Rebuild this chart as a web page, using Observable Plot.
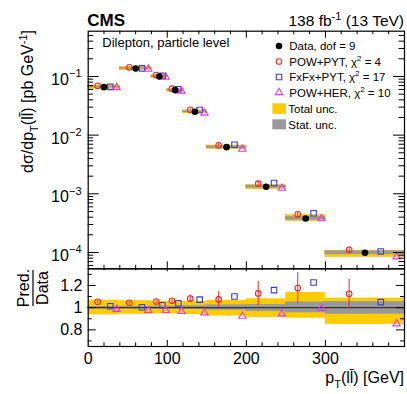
<!DOCTYPE html>
<html><head><meta charset="utf-8">
<script src="https://cdn.jsdelivr.net/npm/d3@7"></script>
<script src="https://cdn.jsdelivr.net/npm/@observablehq/plot@0.6"></script>
<style>
body{margin:0;background:#fff;}
#wrap{position:relative;width:407px;height:394px;overflow:hidden;}
#wrap svg{position:absolute;left:0;top:0;}
</style></head><body><div id="wrap"></div>
<script>
// ---- data ----
const binLo = [0, 40, 80, 100, 120, 150, 200, 250, 300];
const binHi = [40, 80, 100, 120, 150, 200, 250, 300, 400];
const dataVal = [0.0658, 0.137, 0.100, 0.0584, 0.0250, 0.00624, 0.00132, 0.00038, 0.000099];
const ratioPowPyt = [1.053, 1.044, 1.055, 1.062, 1.082, 1.074, 1.128, 1.176, 1.125];
const errPowPyt   = [0.012, 0.012, 0.014, 0.015, 0.032, 0.070, 0.108, 0.140, 0.130];
const ratioFxFxPyt = [1.012, 1.003, 1.022, 1.040, 1.072, 1.100, 1.158, 1.227, 1.050];
const ratioPowHer  = [0.985, 0.975, 0.975, 0.966, 0.954, 0.923, 0.945, 0.993, 0.855];
const totUp  = [0.067, 0.062, 0.057, 0.057, 0.058, 0.066, 0.080, 0.137, 0.086];
const totDn  = [0.065, 0.060, 0.057, 0.057, 0.062, 0.076, 0.088, 0.095, 0.151];
const statUp = [0.008, 0.008, 0.010, 0.010, 0.013, 0.020, 0.023, 0.047, 0.050];
const statDn = [0.008, 0.008, 0.010, 0.010, 0.013, 0.020, 0.032, 0.043, 0.055];
const seriesNames = ["Data, dof = 9", "POW+PYT", "FxFx+PYT", "POW+HER", "Total unc.", "Stat. unc."];
const chi2 = [4, 17, 10];
const xMajorTicks = [100, 200, 300];
const xMinorTicks = [20, 40, 60, 80, 120, 140, 160, 180, 220, 240, 260, 280, 320, 340, 360, 380];
const xLabelTicks = [0, 100, 200, 300];
const yDecades = [1e-4, 1e-3, 1e-2, 1e-1];
const yMinorMult = [2, 3, 4, 5, 6, 7, 8, 9];
const ratioMajor = [0.8, 1.0, 1.2];
const ratioMinor = [0.7, 0.9, 1.1, 1.3];

// ---- layout / style ----
const W = 407, H = 394, L = 87.7, R = 404, T = 30.7, MB = 268.3, RB = 346;
const yDomain = [5.27e-5, 0.591];
const rDomain = [0.65, 1.35];
const FONT = '"Liberation Sans", Arial, Helvetica, sans-serif';
const cRed = "#f22", cBlue = "#3b3bf0", cMag = "#ee33ee", cYel = "#ffcc00", cGray = "#999999";
const fw = R - L, fhTop = MB - T, fhRat = RB - MB;

const rows = binLo.map((lo, i) => ({
  lo, hi: binHi[i], c: (lo + binHi[i]) / 2, w: binHi[i] - lo, data: dataVal[i],
  rp: ratioPowPyt[i], ep: errPowPyt[i], rf: ratioFxFxPyt[i], rh: ratioPowHer[i],
  tu: totUp[i], td: totDn[i], su: statUp[i], sd: statDn[i]
}));
const yMinorTicks = yDecades.concat([1]).flatMap(d => yMinorMult.map(m => m * d / 10))
  .filter(v => v > yDomain[0] && v < yDomain[1]);

const wrap = document.getElementById("wrap");
const common = {
  width: W, height: H, marginLeft: L, marginRight: W - R,
  x: {domain: [0, 400], axis: null},
  style: {background: "transparent", fontFamily: FONT, overflow: "visible", color: "#000"}
};

function frameTicks(fh, xMinL, xMajL, xMinLb, xMajLb, yMaj, yMin, yMajL, yMinL) {
  return [
    Plot.tickX(xMinorTicks, {x: d => d, insetBottom: fh - xMinL, stroke: "#000"}),
    Plot.tickX(xMajorTicks, {x: d => d, insetBottom: fh - xMajL, stroke: "#000"}),
    Plot.tickX(xMinorTicks, {x: d => d, insetTop: fh - xMinLb, stroke: "#000"}),
    Plot.tickX(xMajorTicks, {x: d => d, insetTop: fh - xMajLb, stroke: "#000"}),
    Plot.tickY(yMaj, {y: d => d, insetRight: fw - yMajL, stroke: "#000"}),
    Plot.tickY(yMaj, {y: d => d, insetLeft: fw - yMajL, stroke: "#000"}),
    Plot.tickY(yMin, {y: d => d, insetRight: fw - yMinL, stroke: "#000"}),
    Plot.tickY(yMin, {y: d => d, insetLeft: fw - yMinL, stroke: "#000"}),
    Plot.frame({stroke: "#000", strokeWidth: 1.2})
  ];
}

// ---- top panel ----
const topPlot = Plot.plot({
  ...common,
  marginTop: T, marginBottom: H - MB,
  y: {type: "log", domain: yDomain, axis: null},
  marks: [
    Plot.rect(rows, {x1: "lo", x2: "hi", y1: d => d.data * (1 - d.td), y2: d => d.data * (1 + d.tu), fill: cYel, stroke: "#f0bb00", strokeWidth: 0.6}),
    Plot.rect(rows, {x1: "lo", x2: "hi", y1: d => d.data * (1 - d.sd), y2: d => d.data * (1 + d.su), fill: cGray, stroke: cGray, strokeWidth: 1}),
    Plot.ruleX(rows, {x: d => d.c - 0.2 * d.w, y1: d => d.data * (d.rp - d.ep), y2: d => d.data * (d.rp + d.ep), stroke: cRed}),
    Plot.dot(rows, {x: d => d.c - 0.2 * d.w, y: d => d.data * d.rp, r: 2.8, stroke: cRed, strokeWidth: 1.1, fill: "none"}),
    Plot.dot(rows, {x: d => d.c + 0.2 * d.w, y: d => d.data * d.rf, r: 3.1, symbol: "square", stroke: cBlue, strokeWidth: 1.1, fill: "none"}),
    Plot.dot(rows, {x: d => d.c + 0.4 * d.w, y: d => d.data * d.rh, r: 2.7, symbol: "triangle", stroke: cMag, strokeWidth: 1.1, fill: "none"}),
    Plot.dot(rows, {x: "c", y: "data", r: 3.3, fill: "#000"}),
    ...frameTicks(fhTop, 3.5, 7, 3.5, 7, yDecades, yMinorTicks, 11, 5.5),
    Plot.text(yDecades, {y: d => d, frameAnchor: "left", text: () => "10", textAnchor: "end", lineAnchor: "bottom", dx: -19.4, dy: 8.6, fontSize: 16, fill: "#000"}),
    Plot.text(yDecades, {y: d => d, frameAnchor: "left", text: d => "\u2212" + Math.round(-Math.log10(d)), textAnchor: "start", lineAnchor: "bottom", dx: -19.2, dy: 0.8, fontSize: 11, fill: "#000"})
  ]
});
wrap.appendChild(topPlot);

// ---- ratio panel ----
const ratioPlot = Plot.plot({
  ...common,
  marginTop: MB, marginBottom: H - RB,
  y: {domain: rDomain, axis: null},
  marks: [
    Plot.rect(rows, {x1: "lo", x2: "hi", y1: d => 1 - d.td, y2: d => 1 + d.tu, fill: cYel}),
    Plot.rect(rows, {x1: "lo", x2: "hi", y1: d => 1 - d.sd, y2: d => 1 + d.su, fill: cGray, stroke: cGray, strokeWidth: 0.8}),
    Plot.ruleY([1], {stroke: "#333", strokeWidth: 1.2}),
    Plot.ruleX(rows, {x: d => d.c - 0.2 * d.w, y1: d => d.rp - d.ep, y2: d => d.rp + d.ep, stroke: cRed}),
    Plot.dot(rows, {x: d => d.c - 0.2 * d.w, y: "rp", r: 2.8, stroke: cRed, strokeWidth: 1.1, fill: "none"}),
    Plot.dot(rows, {x: d => d.c + 0.2 * d.w, y: "rf", r: 3.1, symbol: "square", stroke: cBlue, strokeWidth: 1.1, fill: "none"}),
    Plot.dot(rows, {x: d => d.c + 0.4 * d.w, y: "rh", r: 2.7, symbol: "triangle", stroke: cMag, strokeWidth: 1.1, fill: "none"}),
    ...frameTicks(fhRat, 2, 3, 3.7, 6, ratioMajor, ratioMinor, 8, 4),
    Plot.text(ratioMajor, {y: d => d, frameAnchor: "left", text: d => d === 1 ? "1" : d.toFixed(1), textAnchor: "end", lineAnchor: "middle", dx: -5.7, fontSize: 16, fill: "#000"}),
    Plot.text(xLabelTicks, {x: d => d, frameAnchor: "bottom", text: d => String(d), lineAnchor: "bottom", dy: 17, fontSize: 16, fill: "#000"})
  ]
});
wrap.appendChild(ratioPlot);

// ---- annotations / legend ----
const svg = d3.select(wrap).append("svg").attr("width", W).attr("height", H)
  .style("font-family", FONT).attr("fill", "#000");

svg.append("text").attr("x", 87.3).attr("y", 26).attr("font-size", 17).attr("font-weight", "bold").text("CMS");
const lumi = svg.append("text").attr("x", R).attr("y", 25.5).attr("text-anchor", "end").attr("font-size", 15.5);
lumi.append("tspan").text("138 fb");
lumi.append("tspan").attr("dy", -6).attr("font-size", 11).text("-1");
lumi.append("tspan").attr("dy", 6).text(" (13 TeV)");

svg.append("text").attr("x", 102.3).attr("y", 46.7).attr("font-size", 13).text("Dilepton, particle level");

// y title
const yt = svg.append("text").attr("transform", `translate(33,30) rotate(-90)`).attr("text-anchor", "end").attr("font-size", 16);
yt.append("tspan").text("d\u03c3/dp");
yt.append("tspan").attr("dy", 5).attr("font-size", 11).text("T");
yt.append("tspan").attr("dy", -5).text("(ll\u0304) [pb GeV");
yt.append("tspan").attr("dy", -6).attr("font-size", 11).text("-1");
yt.append("tspan").attr("dy", 6).text("]");

// x title
const xt = svg.append("text").attr("x", R).attr("y", 383).attr("text-anchor", "end").attr("font-size", 16);
xt.append("tspan").text("p");
xt.append("tspan").attr("dy", 5).attr("font-size", 11).text("T");
xt.append("tspan").attr("dy", -5).text("(ll\u0304) [GeV]");

// ratio title
const rt = svg.append("g").attr("transform", "translate(0,288) rotate(-90)");
rt.append("text").attr("x", 0).attr("y", 29).attr("text-anchor", "middle").attr("font-size", 16).text("Pred.");
rt.append("text").attr("x", 0).attr("y", 47.5).attr("text-anchor", "middle").attr("font-size", 16).text("Data");
rt.append("line").attr("x1", -18).attr("x2", 18).attr("y1", 33).attr("y2", 33).attr("stroke", "#000").attr("stroke-width", 1.2);

// legend
const lx = 279, tx = 289.3, fs = 11.5;
const rowsY = [46, 61.5, 77, 92.5, 108.3, 124.3];
const sym = (type, r) => d3.symbol(type, Math.PI * r * r)();
svg.append("circle").attr("cx", lx).attr("cy", rowsY[0]).attr("r", 3.3).attr("fill", "#000");
svg.append("circle").attr("cx", lx).attr("cy", rowsY[1]).attr("r", 2.8).attr("fill", "none").attr("stroke", cRed).attr("stroke-width", 1.1);
svg.append("path").attr("d", sym(d3.symbolSquare, 3.1)).attr("transform", `translate(${lx},${rowsY[2]})`).attr("fill", "none").attr("stroke", cBlue).attr("stroke-width", 1.1);
svg.append("path").attr("d", sym(d3.symbolTriangle, 2.7)).attr("transform", `translate(${lx},${rowsY[3]})`).attr("fill", "none").attr("stroke", cMag).attr("stroke-width", 1.1);
svg.append("rect").attr("x", 272.3).attr("y", 103.3).attr("width", 13.7).attr("height", 10.5).attr("fill", cYel);
svg.append("rect").attr("x", 272.3).attr("y", 119.3).attr("width", 13.7).attr("height", 10).attr("fill", cGray);
svg.append("text").attr("x", tx).attr("y", rowsY[0] + 4.2).attr("font-size", fs).text(seriesNames[0]);
[1, 2, 3].forEach(i => {
  const t = svg.append("text").attr("x", tx).attr("y", rowsY[i] + 4.2).attr("font-size", fs);
  t.append("tspan").text(seriesNames[i] + ", \u03c7");
  t.append("tspan").attr("dy", -5).attr("font-size", 8).text("2");
  t.append("tspan").attr("dy", 5).text(" = " + chi2[i - 1]);
});
svg.append("text").attr("x", tx - 1).attr("y", rowsY[4] + 4.2).attr("font-size", fs).text(seriesNames[4]);
svg.append("text").attr("x", tx - 1).attr("y", rowsY[5] + 4.2).attr("font-size", fs).text(seriesNames[5]);
</script>
</body></html>
